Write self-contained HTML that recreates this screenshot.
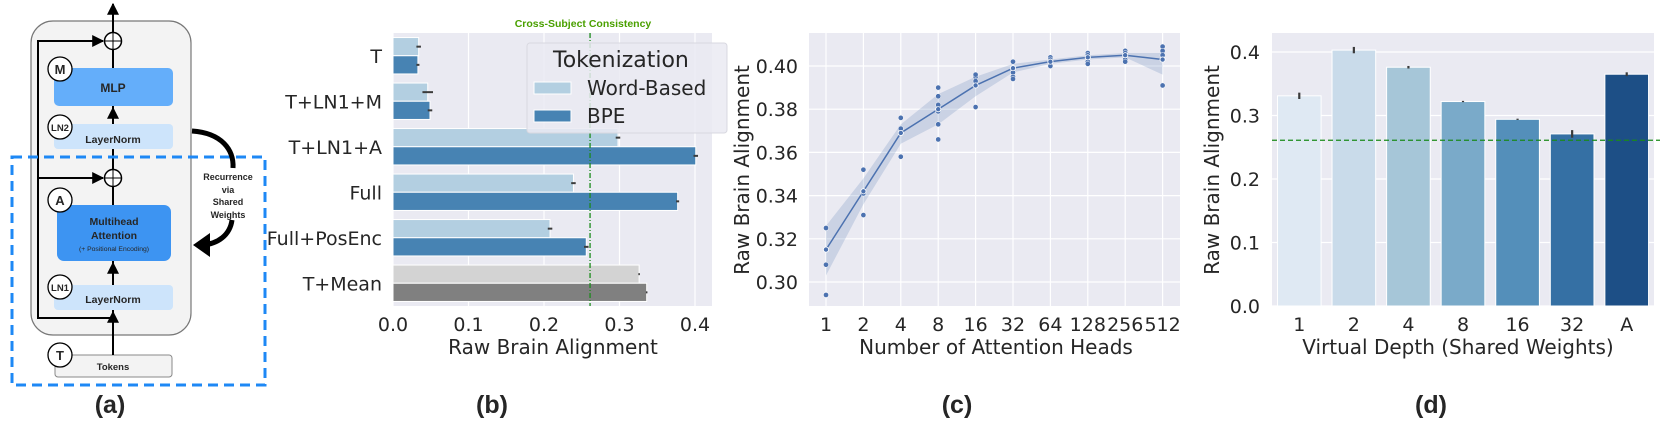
<!DOCTYPE html>
<html><head><meta charset="utf-8">
<style>
html,body{margin:0;padding:0;background:#fff;}
svg{display:block;}
text{font-family:"DejaVu Sans","Liberation Sans",sans-serif;fill:#262626;}
.b{font-family:"Liberation Sans",sans-serif;font-weight:bold;}
</style></head>
<body>
<svg id="root" width="1660" height="425" viewBox="0 0 1660 425" xmlns="http://www.w3.org/2000/svg">
<defs>
<marker id="ah" viewBox="0 0 10 10" refX="9" refY="5" markerWidth="6" markerHeight="6" orient="auto"><path d="M0,0 L10,5 L0,10 z" fill="#000"/></marker>
</defs>
<g>
  <rect x="31" y="21" width="160" height="314" rx="22" fill="#f3f3f3" stroke="#777" stroke-width="1.2"/>
  <line x1="113" y1="355" x2="113" y2="4" stroke="#000" stroke-width="2" marker-end="url(#ah)"/>
  <path d="M113,318 H38 V41 H103" fill="none" stroke="#000" stroke-width="2" marker-end="url(#ah)"/>
  <path d="M38,178 H103" fill="none" stroke="#000" stroke-width="2" marker-end="url(#ah)"/>
  <g><circle cx="113" cy="41" r="8.5" fill="#fff" stroke="#000" stroke-width="1.5"/><line x1="104.5" y1="41" x2="121.5" y2="41" stroke="#000"/><line x1="113" y1="32.5" x2="113" y2="49.5" stroke="#000"/></g>
  <g><circle cx="113" cy="178" r="8.5" fill="#fff" stroke="#000" stroke-width="1.5"/><line x1="104.5" y1="178" x2="121.5" y2="178" stroke="#000"/><line x1="113" y1="169.5" x2="113" y2="186.5" stroke="#000"/></g>
  <rect x="54" y="68" width="119" height="38" rx="5" fill="#64aefa"/>
  <text x="113" y="92" text-anchor="middle" class="b" font-size="12">MLP</text>
  <rect x="54" y="124" width="119" height="25" rx="4" fill="#cde4fb"/>
  <text x="113" y="143" text-anchor="middle" class="b" font-size="10.5">LayerNorm</text>
  <rect x="57" y="205" width="114" height="56" rx="7" fill="#3d94f2"/>
  <text x="114" y="225" text-anchor="middle" class="b" font-size="10.5">Multihead</text>
  <text x="114" y="239" text-anchor="middle" class="b" font-size="10.5">Attention</text>
  <text x="114" y="251" text-anchor="middle" font-size="6.8" style="font-family:'Liberation Sans',sans-serif">(+ Positional Encoding)</text>
  <rect x="54" y="285" width="119" height="25" rx="4" fill="#cde4fb"/>
  <text x="113" y="303" text-anchor="middle" class="b" font-size="10.5">LayerNorm</text>
  <rect x="55" y="355" width="117" height="22" rx="3" fill="#f3f3f3" stroke="#888"/>
  <text x="113" y="370" text-anchor="middle" class="b" font-size="9.5" fill="#333">Tokens</text>
  <line x1="113" y1="355" x2="113" y2="312" stroke="#000" stroke-width="2" marker-end="url(#ah)"/>
  <line x1="113" y1="285" x2="113" y2="263" stroke="#000" stroke-width="2" marker-end="url(#ah)"/>
  <line x1="113" y1="124" x2="113" y2="108" stroke="#000" stroke-width="2" marker-end="url(#ah)"/>
  <g>
    <circle cx="60" cy="69" r="12" fill="#fff" stroke="#000" stroke-width="1.3"/><text x="60" y="74" text-anchor="middle" class="b" font-size="13">M</text>
    <circle cx="60" cy="127" r="12" fill="#fff" stroke="#000" stroke-width="1.3"/><text x="60" y="131" text-anchor="middle" class="b" font-size="9.5">LN2</text>
    <circle cx="60" cy="200" r="12" fill="#fff" stroke="#000" stroke-width="1.3"/><text x="60" y="205" text-anchor="middle" class="b" font-size="13">A</text>
    <circle cx="60" cy="287" r="12" fill="#fff" stroke="#000" stroke-width="1.3"/><text x="60" y="291" text-anchor="middle" class="b" font-size="9.5">LN1</text>
    <circle cx="60" cy="355" r="12" fill="#fff" stroke="#000" stroke-width="1.3"/><text x="60" y="360" text-anchor="middle" class="b" font-size="13">T</text>
  </g>
  <rect x="12" y="157" width="253" height="228" fill="none" stroke="#1e88f5" stroke-width="3" stroke-dasharray="10,6"/>
  <path d="M192,131 C222,133 234,150 233,168" fill="none" stroke="#000" stroke-width="5"/>
  <path d="M232,220 C230,235 218,244 202,245" fill="none" stroke="#000" stroke-width="5"/>
  <path d="M193,245 L210,233 L210,257 z" fill="#000"/>
  <text x="228" y="180" text-anchor="middle" class="b" font-size="9">Recurrence</text>
  <text x="228" y="193" text-anchor="middle" class="b" font-size="9">via</text>
  <text x="228" y="205" text-anchor="middle" class="b" font-size="9">Shared</text>
  <text x="228" y="218" text-anchor="middle" class="b" font-size="9">Weights</text>
  <text x="110" y="413" text-anchor="middle" class="b" font-size="25">(a)</text>
</g>
<g id="pb"></g>
<g id="pc"></g>
<g id="pd"></g>
</svg>
<script>
// ---- Panel b data ----
const bCats = ["T","T+LN1+M","T+LN1+A","Full","Full+PosEnc","T+Mean"];
const bWord = [0.034,0.046,0.298,0.239,0.208,0.326];
const bBPE  = [0.033,0.049,0.401,0.377,0.256,0.336];
const bWordErr = [0.003,0.007,0.003,0.003,0.003,0.001];
const bBPEErr  = [0.002,0.003,0.003,0.002,0.003,0.001];
const bTicks = [0.0,0.1,0.2,0.3,0.4];
const consistency = 0.261;
// ---- Panel c data ----
const cHeads = ["1","2","4","8","16","32","64","128","256","512"];
const cMean = [0.315,0.342,0.369,0.380,0.391,0.399,0.402,0.404,0.405,0.403];
const cLo = [0.303,0.336,0.364,0.373,0.386,0.397,0.401,0.403,0.404,0.396];
const cHi = [0.326,0.348,0.373,0.387,0.395,0.401,0.403,0.405,0.406,0.406];
const cPts = [[0.325,0.315,0.308,0.294],[0.352,0.342,0.341,0.331],[0.376,0.371,0.369,0.358],[0.390,0.386,0.382,0.379,0.373,0.366],[0.395,0.396,0.393,0.391,0.381],[0.402,0.399,0.397,0.395,0.394],[0.404,0.403,0.402,0.400,0.400],[0.406,0.405,0.404,0.402,0.401],[0.407,0.406,0.405,0.403,0.402],[0.409,0.407,0.405,0.403,0.391]];
const cTicks = [0.30,0.32,0.34,0.36,0.38,0.40];
// ---- Panel d data ----
const dCats = ["1","2","4","8","16","32","A"];
const dVals = [0.331,0.403,0.376,0.322,0.294,0.271,0.365];
const dErr = [0.005,0.005,0.002,0.001,0.001,0.006,0.003];
const dTicks = [0.0,0.1,0.2,0.3,0.4];

const NS="http://www.w3.org/2000/svg";
function mk(parent,tag,attrs,txt){const e=document.createElementNS(NS,tag);for(const k in attrs)e.setAttribute(k,attrs[k]);if(txt!==undefined)e.textContent=txt;parent.appendChild(e);return e;}
const TF=19, AF=20;

// ===== Panel b =====
(function(){
const g=document.getElementById('pb');
const L=393,R=712,T=33,B=306;
const x=v=>L+v*755;
const band=(B-T)/bCats.length;
let bg=mk(g,'rect',{x:L,y:T,width:R-L,height:B-T,fill:'#eaeaf2'});


bTicks.forEach(t=>{
  let gl=mk(g,'line',{x1:x(t),x2:x(t),y1:T,y2:B,stroke:'#fff','stroke-width':1.2});
  
  
  let tl=mk(g,'text',{x:x(t),y:331,'text-anchor':'middle','font-size':TF},t.toFixed(1));
  
  
});
const bh=band*0.4;
bCats.forEach((c,i)=>{
  const y0=T+band*i+band*0.1;
  const gray=c==="T+Mean";
  let r1=mk(g,'rect',{x:L,y:y0,width:x(bWord[i])-L,height:bh,fill:gray?'#d3d3d3':'#b3cfe1',stroke:'#fff','stroke-width':1});
  
  
  let r2=mk(g,'rect',{x:L,y:y0+bh,width:x(bBPE[i])-L,height:bh,fill:gray?'#808080':'#4783b3',stroke:'#fff','stroke-width':1});
  
  
  let e1=mk(g,'line',{x1:x(bWord[i]-bWordErr[i]),x2:x(bWord[i]+bWordErr[i]),y1:y0+bh/2,y2:y0+bh/2,stroke:'#3b3b3b','stroke-width':2});
  
  
  let e2=mk(g,'line',{x1:x(bBPE[i]-bBPEErr[i]),x2:x(bBPE[i]+bBPEErr[i]),y1:y0+bh*1.5,y2:y0+bh*1.5,stroke:'#3b3b3b','stroke-width':2});
  
  
  let cl=mk(g,'text',{x:382,y:y0+bh+7,'text-anchor':'end','font-size':TF},c);
  
  
});
let cs=mk(g,'line',{x1:x(consistency),x2:x(consistency),y1:T,y2:B,stroke:'#1a8a1a','stroke-width':1.3,'stroke-dasharray':'5,2,1,2'});


let ct=mk(g,'text',{x:583,y:27,'text-anchor':'middle','font-size':10.5,class:'b',style:'fill:#4aa000'},'Cross-Subject Consistency');


let lg=mk(g,'g',{});


mk(lg,'rect',{x:527,y:43,width:200,height:90,rx:3,fill:'#eaeaf2','fill-opacity':0.85,stroke:'#d8d8e0'});
mk(lg,'text',{x:553,y:67,'font-size':22},'Tokenization');
let p1=mk(lg,'rect',{x:534,y:82,width:37,height:12,fill:'#b3cfe1',stroke:'#fff'});


mk(lg,'text',{x:587,y:95,'font-size':AF},'Word-Based');
let p2=mk(lg,'rect',{x:534,y:110,width:37,height:12,fill:'#4783b3',stroke:'#fff'});


mk(lg,'text',{x:587,y:123,'font-size':AF},'BPE');
let xl=mk(g,'text',{x:553,y:354,'text-anchor':'middle','font-size':AF},'Raw Brain Alignment');


let pl=mk(g,'text',{x:492,y:413,'text-anchor':'middle','font-size':25,class:'b'},'(b)');


})();

// ===== Panel c =====
(function(){
const g=document.getElementById('pc');
const L=809,R=1180,T=33,B=306;
const x=i=>826+i*37.4;
const y=v=>66+(0.40-v)*2160;
let bg=mk(g,'rect',{x:L,y:T,width:R-L,height:B-T,fill:'#eaeaf2'});


cTicks.forEach(t=>{
  let gl=mk(g,'line',{x1:L,x2:R,y1:y(t),y2:y(t),stroke:'#fff','stroke-width':1.2});
  
  
  let tl=mk(g,'text',{x:798,y:y(t)+7,'text-anchor':'end','font-size':TF},t.toFixed(2));
  
  
});
cHeads.forEach((h,i)=>{
  let gl=mk(g,'line',{x1:x(i),x2:x(i),y1:T,y2:B,stroke:'#fff','stroke-width':1.2});
  
  
  let tl=mk(g,'text',{x:x(i),y:331,'text-anchor':'middle','font-size':TF},h);
  
  
});
let d='';cHi.forEach((v,i)=>{d+=(i?'L':'M')+x(i)+','+y(v);});
for(let i=cLo.length-1;i>=0;i--)d+='L'+x(i)+','+y(cLo[i]);
let band=mk(g,'path',{d:d+'Z',fill:'#4c72b0','fill-opacity':0.2});


let ld='';cMean.forEach((v,i)=>{ld+=(i?'L':'M')+x(i)+','+y(v);});
let ln=mk(g,'path',{d:ld,fill:'none',stroke:'#4c72b0','stroke-width':1.5});


cPts.forEach((arr,i)=>arr.forEach(v=>{
  let c=mk(g,'circle',{cx:x(i),cy:y(v),r:2.6,fill:'#4c72b0',stroke:'#fff','stroke-width':0.5});
  
  
}));
cMean.forEach((v,i)=>{
  let c=mk(g,'circle',{cx:x(i),cy:y(v),r:2.6,fill:'#4c72b0',stroke:'#fff','stroke-width':0.8});
  
  
});
let yl=mk(g,'text',{x:0,y:0,'text-anchor':'middle','font-size':AF,transform:'translate(749,170) rotate(-90)'},'Raw Brain Alignment');


let xl=mk(g,'text',{x:996,y:354,'text-anchor':'middle','font-size':AF},'Number of Attention Heads');


let pl=mk(g,'text',{x:957,y:413,'text-anchor':'middle','font-size':25,class:'b'},'(c)');


})();

// ===== Panel d =====
(function(){
const g=document.getElementById('pd');
const L=1272,R=1654,T=33,B=306;
const y=v=>B-v*635;
const band=(R-L)/dCats.length;
const cols=['#dfe9f3','#c9dbea','#a6c6d8','#7aaac9','#548fba','#3570a4','#1d4f86'];
let bg=mk(g,'rect',{x:L,y:T,width:R-L,height:B-T,fill:'#eaeaf2'});


dTicks.forEach(t=>{
  let gl=mk(g,'line',{x1:L,x2:R,y1:y(t),y2:y(t),stroke:'#fff','stroke-width':1.2});
  
  
  let tl=mk(g,'text',{x:1260,y:y(t)+7,'text-anchor':'end','font-size':TF},t.toFixed(1));
  
  
});
dCats.forEach((c,i)=>{
  const cx=L+band*(i+0.5);
  let r=mk(g,'rect',{x:cx-band*0.4,y:y(dVals[i]),width:band*0.8,height:B-y(dVals[i]),fill:cols[i],stroke:'#fff','stroke-width':1});
  
  
  let e=mk(g,'line',{x1:cx,x2:cx,y1:y(dVals[i]+dErr[i]),y2:y(dVals[i]-dErr[i]),stroke:'#3b3b3b','stroke-width':2.2});
  
  
  let tl=mk(g,'text',{x:cx,y:331,'text-anchor':'middle','font-size':TF},c);
  
  
});
let cs=mk(g,'line',{x1:L,x2:1660,y1:y(consistency),y2:y(consistency),stroke:'#1a8a1a','stroke-width':1.3,'stroke-dasharray':'5,3'});


let yl=mk(g,'text',{x:0,y:0,'text-anchor':'middle','font-size':AF,transform:'translate(1219,170) rotate(-90)'},'Raw Brain Alignment');


let xl=mk(g,'text',{x:1458,y:354,'text-anchor':'middle','font-size':AF},'Virtual Depth (Shared Weights)');


let pl=mk(g,'text',{x:1431,y:413,'text-anchor':'middle','font-size':25,class:'b'},'(d)');


})();
</script>
</body></html>
